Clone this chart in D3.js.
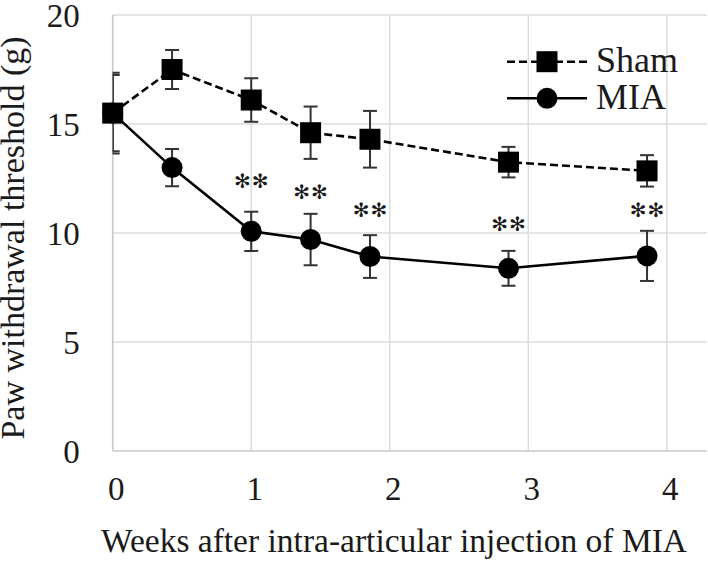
<!DOCTYPE html>
<html>
<head>
<meta charset="utf-8">
<script src="https://cdn.jsdelivr.net/npm/d3@7"></script>
<style>
  html, body { margin: 0; padding: 0; background: #fff; }
  svg { display: block; }
  text { font-family: "Liberation Serif", "Times New Roman", serif; fill: #1a1a1a; }
</style>
</head>
<body>
<svg id="chart" width="708" height="561"></svg>
<script>
// ---- data ----
const weeks = [0, 3/7, 1, 10/7, 13/7, 20/7, 27/7];          // days 0,3,7,10,13,20,27
const shamMean = [15.5, 17.5, 16.1, 14.6, 14.3, 13.25, 12.85];
const shamErr  = [1.85, 0.9, 1.0, 1.2, 1.3, 0.7, 0.72];
const miaMean  = [15.5, 13.0, 10.08, 9.7, 8.92, 8.38, 8.95];
const miaErr   = [1.75, 0.85, 0.9, 1.18, 0.98, 0.8, 1.15];
const sigIndex = [2, 3, 4, 5, 6];
const sigLabel = ["✻✻", "✻✻", "✻✻", "✻✻", "✻✻"];
const sigLevel = [12.4, 11.9, 11.05, 10.4, 11.05];       // y (g) at which the marks sit
const xTicks = [0, 1, 2, 3, 4];
const yTicks = [0, 5, 10, 15, 20];
const seriesNames = ["Sham", "MIA"];
const xTitle = "Weeks after intra-articular injection of MIA";
const yTitle = "Paw withdrawal threshold (g)";

// ---- layout ----
const svg = d3.select("#chart");
const L = 112.7, R = 707, T = 15, B = 451;
const x = d3.scaleLinear().domain([0, 4.29]).range([L, R]);
const y = d3.scaleLinear().domain([0, 20]).range([B, T]);

svg.append("defs").append("clipPath").attr("id", "plotclip")
  .append("rect").attr("x", L).attr("y", T - 40).attr("width", R - L).attr("height", B - T + 40);

// gridlines
const grid = svg.append("g");
grid.selectAll("line.h").data(yTicks.filter(d => d > 0)).join("line")
  .attr("x1", L).attr("x2", R).attr("y1", d => y(d)).attr("y2", d => y(d))
  .attr("stroke", "#dcdcdc").attr("stroke-width", 1.5);
grid.selectAll("line.v").data(xTicks.filter(d => d > 0)).join("line")
  .attr("x1", d => x(d)).attr("x2", d => x(d)).attr("y1", T).attr("y2", B)
  .attr("stroke", "#dcdcdc").attr("stroke-width", 1.5);

// axes (D3 axes, styled)
const xAxis = svg.append("g").attr("transform", `translate(0,${B})`)
  .call(d3.axisBottom(x).tickValues(xTicks).tickFormat(d3.format("d")).tickSize(0).tickPadding(38));
const yAxis = svg.append("g").attr("transform", `translate(${L},0)`)
  .call(d3.axisLeft(y).tickValues(yTicks).tickFormat(d3.format("d")).tickSize(0).tickPadding(33));
[xAxis, yAxis].forEach(a => {
  a.select(".domain").attr("stroke", "#c8c8c8").attr("stroke-width", 1.6);
  a.selectAll("text").attr("font-size", 33).attr("fill", "#1a1a1a")
    .style("font-family", '"Liberation Serif", serif');
});
xAxis.selectAll(".tick text").attr("dy", "0").attr("y", 49).attr("dx", 3);
yAxis.selectAll(".tick text").attr("dy", "0.34em");
xAxis.select(".domain").attr("d", `M${L},0H${R}`);
yAxis.select(".domain").attr("d", `M0,${B}V${T}`);

// titles
svg.append("text").attr("x", 394).attr("y", 552).attr("text-anchor", "middle")
  .attr("font-size", 33.5).text(xTitle);
svg.append("text").attr("transform", `translate(24,${238}) rotate(-90)`).attr("text-anchor", "middle")
  .attr("font-size", 34).text(yTitle);

// ---- series ----
const series = [
  { name: seriesNames[1], mean: miaMean, err: miaErr, dash: null, shape: "circle" },
  { name: seriesNames[0], mean: shamMean, err: shamErr, dash: "8,4", shape: "square" }
];
const line = d3.line().x((d, i) => x(weeks[i])).y(d => y(d));
const cap = 7;

series.forEach(s => {
  const g = svg.append("g");
  const eb = g.append("g").attr("clip-path", "url(#plotclip)");
  s.mean.forEach((m, i) => {
    const cx = x(weeks[i]), y1 = y(m + s.err[i]), y2 = y(m - s.err[i]);
    eb.append("line").attr("x1", cx).attr("x2", cx).attr("y1", y1).attr("y2", y2)
      .attr("stroke", "#333").attr("stroke-width", 2);
    [y1, y2].forEach(yy => eb.append("line").attr("x1", cx - cap).attr("x2", cx + cap)
      .attr("y1", yy).attr("y2", yy).attr("stroke", "#333").attr("stroke-width", 2));
  });
  g.append("path").datum(s.mean).attr("d", line).attr("fill", "none")
    .attr("stroke", "#000").attr("stroke-width", 2.6)
    .attr("stroke-dasharray", s.dash);
  if (s.shape === "circle") {
    g.selectAll("circle").data(s.mean).join("circle")
      .attr("cx", (d, i) => x(weeks[i])).attr("cy", d => y(d)).attr("r", 10.5).attr("fill", "#000");
  } else {
    g.selectAll("rect").data(s.mean).join("rect")
      .attr("x", (d, i) => x(weeks[i]) - 10.5).attr("y", d => y(d) - 10.5)
      .attr("width", 21).attr("height", 21).attr("fill", "#000");
  }
});

// significance marks
svg.append("g").selectAll("text").data(sigIndex).join("text")
  .attr("x", d => x(weeks[d]) + 0.5).attr("y", (d, k) => y(sigLevel[k]))
  .attr("dy", "0.35em").attr("text-anchor", "middle")
  .attr("font-size", 20).attr("letter-spacing", 1)
  .style("font-family", '"DejaVu Sans", sans-serif').attr("fill", "#333")
  .text((d, k) => sigLabel[k]);

// ---- legend ----
const leg = svg.append("g");
const legY = [61.7, 98.3];
[series[1], series[0]].forEach((s, k) => {
  const ly = legY[k];
  leg.append("line").attr("x1", 507).attr("x2", 587).attr("y1", ly).attr("y2", ly)
    .attr("stroke", "#000").attr("stroke-width", 2.6).attr("stroke-dasharray", s.dash);
  if (s.shape === "circle") leg.append("circle").attr("cx", 547).attr("cy", ly).attr("r", 10.5);
  else leg.append("rect").attr("x", 536.5).attr("y", ly - 10.5).attr("width", 21).attr("height", 21);
  leg.append("text").attr("x", 596).attr("y", ly + 10.5).attr("font-size", 36).text(s.name);
});
</script>
</body>
</html>
